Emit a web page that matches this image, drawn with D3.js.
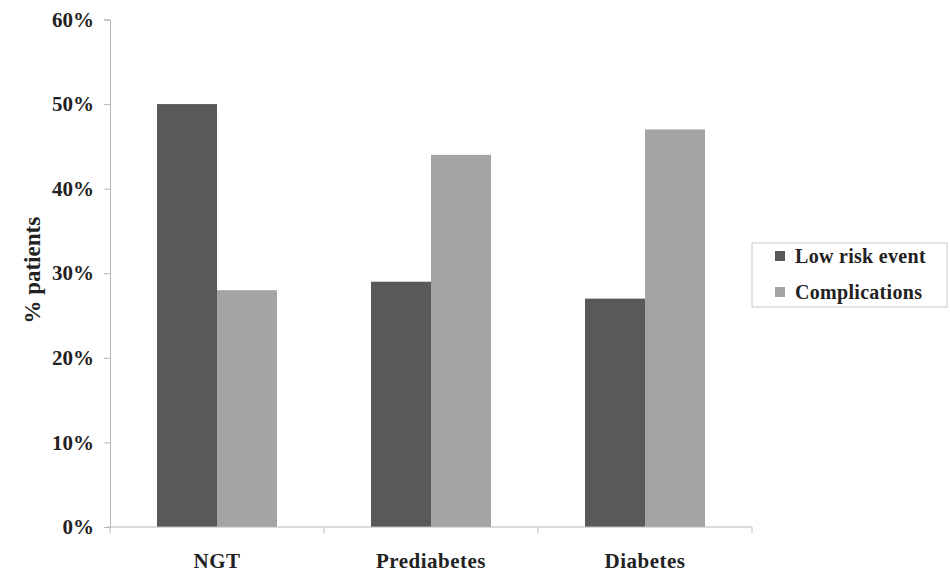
<!DOCTYPE html>
<html>
<head>
<meta charset="utf-8">
<script src="https://cdn.jsdelivr.net/npm/d3@7"></script>
<style>
  body { margin: 0; background: #fff; }
  svg { display: block; }
  text { font-family: "Liberation Serif", "Times New Roman", serif; font-weight: bold; fill: #222; }
</style>
</head>
<body>
<svg id="chart" width="950" height="574"></svg>
<script>
const categories = ["NGT", "Prediabetes", "Diabetes"];
const seriesNames = ["Low risk event", "Complications"];
const lowRisk = [0.50, 0.29, 0.27];
const complications = [0.28, 0.44, 0.47];
const yTicks = [0, 0.1, 0.2, 0.3, 0.4, 0.5, 0.6];
const colors = ["#595959", "#a4a4a4"];

const svg = d3.select("#chart");
const margin = { top: 19.5, right: 198, bottom: 47, left: 110 };
const W = 950, H = 574;

const x0 = d3.scaleBand().domain(categories).range([margin.left, W - margin.right]).padding(0);
const x1 = d3.scaleBand().domain(seriesNames).range([0, x0.bandwidth()]).paddingInner(0).paddingOuter(0.783);
const y = d3.scaleLinear().domain([0, 0.6]).range([H - margin.bottom, margin.top]);

const data = categories.map((c, i) => ({ cat: c, vals: [lowRisk[i], complications[i]] }));

// bars
const g = svg.append("g");
data.forEach(d => {
  d.vals.forEach((v, j) => {
    g.append("rect")
      .attr("x", x0(d.cat) + x1(seriesNames[j]))
      .attr("y", y(v))
      .attr("width", x1.bandwidth())
      .attr("height", y(0) - y(v))
      .attr("fill", colors[j]);
  });
});

// y axis
const yAxis = d3.axisLeft(y).tickValues(yTicks).tickFormat(d3.format(".0%")).tickSize(6).tickPadding(10);
const ya = svg.append("g").attr("transform", `translate(${margin.left},0)`).call(yAxis);
ya.select(".domain").attr("stroke", "#b8b8b8");
ya.selectAll(".tick line").attr("stroke", "#b8b8b8");
ya.selectAll(".tick text").style("font-size", "21px").style("font-family", "Liberation Serif, serif").style("font-weight", "bold").attr("fill", "#333");

// x axis
const xa = svg.append("g").attr("transform", `translate(0,${y(0)})`);
xa.append("line").attr("x1", margin.left - 3).attr("x2", W - margin.right).attr("y1", 0).attr("y2", 0).attr("stroke", "#b8b8b8");
const bounds = categories.map(c => x0(c)).concat([x0(categories[categories.length - 1]) + x0.bandwidth()]);
xa.selectAll(".bt").data(bounds).enter().append("line")
  .attr("x1", d => d).attr("x2", d => d).attr("y1", 0).attr("y2", 6).attr("stroke", "#b8b8b8");
xa.selectAll(".cl").data(categories).enter().append("text")
  .attr("x", d => x0(d) + x0.bandwidth() / 2)
  .attr("y", 41)
  .attr("text-anchor", "middle")
  .style("font-size", "21px")
  .style("letter-spacing", "0.5px")
  .text(d => d);

// y label
svg.append("text")
  .attr("transform", `translate(40,${(margin.top + H - margin.bottom) / 2 - 3}) rotate(-90)`)
  .attr("text-anchor", "middle")
  .style("font-size", "23px")
  .text("% patients");

// legend
const lg = svg.append("g");
lg.append("rect").attr("x", 752).attr("y", 243).attr("width", 195).attr("height", 64)
  .attr("fill", "#fff").attr("stroke", "#c8c8c8");
seriesNames.forEach((s, i) => {
  const cy = 256 + i * 36;
  lg.append("rect").attr("x", 775).attr("y", cy - 5).attr("width", 10).attr("height", 10).attr("fill", colors[i]);
  lg.append("text").attr("x", 795).attr("y", cy + 7).style("font-size", "20px").style("letter-spacing", "0.3px").text(s);
});
</script>
</body>
</html>
